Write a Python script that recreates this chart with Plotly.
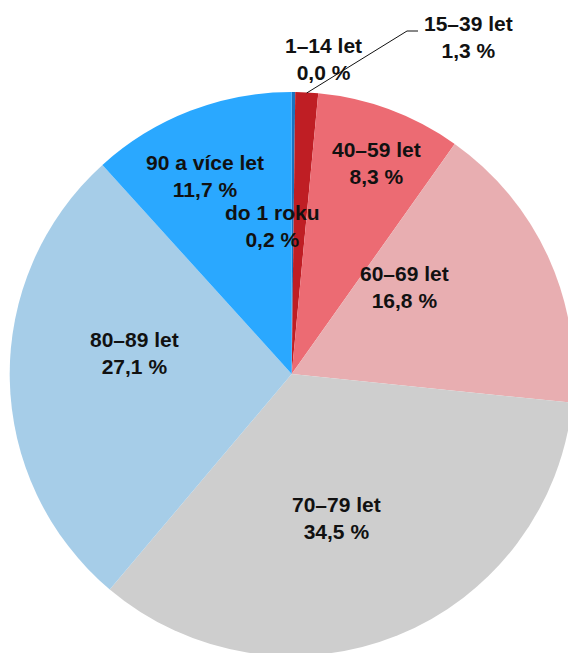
import plotly.graph_objects as go

categories = ["do 1 roku", "1–14 let", "15–39 let", "40–59 let", "60–69 let",
              "70–79 let", "80–89 let", "90 a více let"]
shares = [0.2, 0.0, 1.3, 8.3, 16.8, 34.5, 27.1, 11.7]
colors = ["#1b72be", "#8b1a1a", "#bf1e24", "#ec6b73", "#e8aeb1",
          "#cecece", "#a6cde8", "#2aa8ff"]

# label block centres in page pixels (layout only)
label_px = {
    "do 1 roku": (272, 226),
    "1–14 let": (323, 59),
    "15–39 let": (468, 37),
    "40–59 let": (376, 163),
    "60–69 let": (404, 287),
    "70–79 let": (336, 518),
    "80–89 let": (134, 353),
    "90 a více let": (205, 176),
}

W, H = 600, 700
cx, cy, r = 291.7, 374.0, 282.0


def px(x):
    return x / W


def py(y):
    return 1 - y / H


fig = go.Figure(go.Pie(
    labels=categories,
    values=shares,
    sort=False,
    direction="clockwise",
    rotation=0,
    marker=dict(colors=colors, line=dict(width=0)),
    textinfo="none",
    hoverinfo="skip",
    showlegend=False,
    domain=dict(x=[px(cx - r), px(cx + r)], y=[py(cy + r), py(cy - r)]),
))

annotations = []
for cat, val in zip(categories, shares):
    x, y = label_px[cat]
    pct = f"{val:.1f}".replace(".", ",") + " %"
    txt = f"<b>{cat}</b><br><b>{pct}</b>"
    annotations.append(dict(
        x=px(x), y=py(y), xref="paper", yref="paper",
        text=txt, showarrow=False, xanchor="center", yanchor="middle",
        font=dict(family="Liberation Sans, Arial, sans-serif", size=21, color="#111111"),
    ))

# leader line for 15–39 let
pts = [(306.7, 93.0), (407.0, 31.0), (418.0, 31.0)]
path = "M " + " L ".join(f"{px(a)},{py(b)}" for a, b in pts)
fig.add_shape(type="path", path=path, xref="paper", yref="paper",
              line=dict(color="#111111", width=1))

fig.update_layout(
    width=W, height=H,
    margin=dict(l=0, r=0, t=0, b=0),
    paper_bgcolor="white", plot_bgcolor="white",
    annotations=annotations,
)

fig.write_html("out.html",
               config={"displayModeBar": False},
               post_script="document.body.style.margin='0';document.body.style.overflow='hidden';")
